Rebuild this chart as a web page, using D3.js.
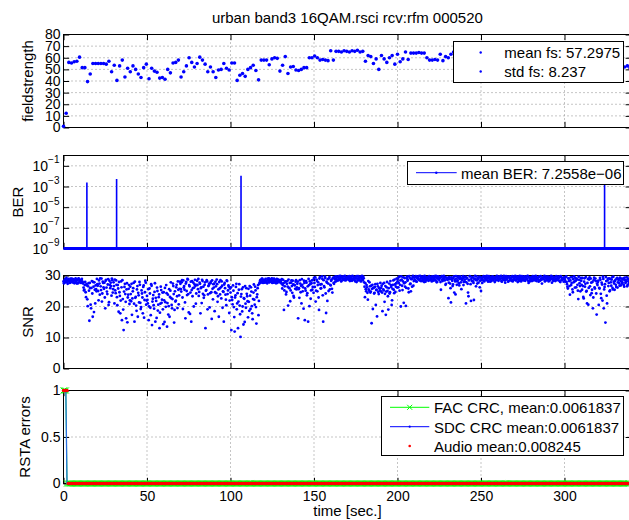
<!DOCTYPE html>
<html>
<head>
<meta charset="utf-8">
<script src="https://cdn.jsdelivr.net/npm/d3@7"></script>
<style>
body { margin: 0; background: #fff; }
text { font-family: "Liberation Sans", Arial, Helvetica, sans-serif; fill: #000; }
</style>
</head>
<body>
<svg id="fig" width="629" height="520"></svg>
<script>
// ---- data ----
var title = "urban band3 16QAM.rsci rcv:rfm 000520";
var timeTicks = [0, 50, 100, 150, 200, 250, 300];
var fsTicks = [0, 10, 20, 30, 40, 50, 60, 70, 80];
var berTicks = [1e-9, 1e-7, 1e-5, 1e-3, 1e-1];
var snrTicks = [0, 10, 20, 30];
var rstaTicks = [0, 0.5, 1];

// fieldstrength, one sample every 1.6 s
var fsStep = 1.6;
var fieldstrength = [
  1, 12.3,
  56, 55.5, 56.5, 57, 60.5, 51.5, 51.5, 39.5, 46, 55,
  55, 55, 55, 55, 54.5,
  57, 48, 53.5, 40.5, 53, 58, 43.5, 51, 48, 53,
  50, 46, 43, 51.5, 54.5, 42, 51, 48.5, 47.5, 42.5,
  43, 41.5, 50, 47, 55.5, 56, 58, 43.5, 48, 53,
  60, 56, 52, 55, 60.5, 58, 54.5, 48, 52, 48,
  43, 49.5, 50, 55, 51, 49.5, 55.5, 55.5, 40.5, 45,
  46.5, 44, 50, 51.5, 53.5, 49, 41, 58, 58, 58,
  54, 59, 60, 59.5, 48.5, 53.5, 61, 46.5, 52, 52.5,
  49.5, 49, 50, 51.5, 51.5, 60, 60, 61.5,
  60, 58, 58.5,
  58, 57.5, 66, 58, 65.5,
  65.5, 65, 66, 65.5, 65, 66, 65.5, 66.5, 65, 65.5,
  57,
  62, 61, 55, 59, 50, 62, 59, 56, 60, 62, 54.5, 63, 56.5, 59,
  65, 58.5, 64, 64, 64, 64.5, 64, 64, 60, 58, 58, 58.5, 58, 63,
  57.5, 61, 60,
  63, 65, 61, 67, 64, 62, 66, 68, 63, 60, 65, 67, 62, 64, 66, 61, 63, 68, 65, 62,
  64, 67, 60, 63, 66, 65, 62, 68, 64, 61, 63, 66, 67, 62, 65, 60, 64, 68, 63, 66,
  61, 65, 67, 62, 64, 63, 66, 60, 65, 68, 62, 64, 61, 66, 63, 67, 65, 62, 64, 60,
  66, 63, 58, 61, 56,
  52, 53, 51.5
];
var fsLegend = ["mean fs: 57.2975", "std fs: 8.237"];

// BER: zero everywhere except a few spikes
var berFloor = 1e-9;
var berTimes = [14, 31.8, 106.3, 324];
var berValues = [2.5e-3, 5.3e-3, 1.1e-2, 2e-2];
var berLegend = "mean BER: 7.2558e\u221206";

// SNR, two interleaved sample sets, each one value every 0.5 s
var snrStep = 0.5;
var snrA = [
  28.1,27.6,28.8,27.9,28.4,27.3,28.9,28.2,27.7,28.5,29.0,27.8,28.3,27.5,28.7,28.0,27.4,28.6,29.1,27.9,
  28.3,27.6,28.9,27.8,26.1,25.4,27.9,23.0,26.8,20.1,27.5,15.4,25.9,19.4,28.2,16.7,26.4,27.8,21.0,25.6,
  28.9,26.7,22.0,27.4,29.1,25.3,21.6,28.0,26.2,27.7,19.4,28.6,24.8,27.1,20.5,28.3,25.9,26.6,29.0,24.5,
  27.8,21.0,25.2,28.4,23.0,26.9,18.3,24.6,17.8,28.1,15.6,22.4,12.4,26.3,24.0,16.2,27.5,22.9,25.7,20.8,
  26.4,21.7,17.3,24.9,27.6,15.1,22.8,20.3,25.5,16.7,23.6,27.9,21.2,19.8,24.2,17.8,26.8,22.1,28.3,20.6,
  23.4,21.0,15.6,25.8,19.6,27.2,14.0,22.5,20.4,24.7,15.1,21.8,26.1,18.7,23.0,13.0,20.9,25.3,22.2,19.1,
  24.6,15.0,21.4,26.9,13.5,23.8,20.1,16.7,25.1,22.7,19.4,27.4,24.0,18.9,21.6,26.2,23.3,28.1,20.7,25.7,
  27.3,24.8,28.5,19.2,26.1,25.4,16.2,27.9,23.7,28.7,18.1,26.5,24.5,15.1,28.2,25.9,20.0,27.1,26.7,24.2,
  28.3,25.6,23.4,27.7,17.8,26.2,28.6,24.1,22.8,27.0,13.0,25.3,28.1,23.9,26.8,19.7,27.5,24.6,28.4,22.3,
  26.1,18.5,28.0,24.3,27.2,23.3,16.7,25.8,28.5,22.6,26.7,24.9,15.1,27.6,23.8,20.4,28.2,25.2,26.4,21.9,
  24.5,12.4,22.1,26.8,19.8,11.9,23.6,27.3,21.0,13.0,25.4,20.3,10.2,24.0,18.4,26.2,22.7,15.0,20.9,25.9,
  23.3,16.5,21.5,26.6,19.2,24.8,17.8,22.4,27.1,20.6,25.2,14.5,23.9,26.9,21.8,27.8,28.6,28.0,29.0,27.6,
  28.4,27.7,28.9,28.1,27.5,28.6,29.1,27.9,28.3,28.8,27.6,28.2,29.0,27.8,28.5,28.0,27.6,28.7,28.2,27.9,
  28.3,27.4,25.8,28.6,18.9,26.5,27.9,24.7,28.2,20.3,26.0,27.6,25.2,28.4,24.4,27.1,22.9,26.8,28.0,25.5,
  27.3,16.2,25.9,28.5,24.6,21.0,27.0,26.2,28.3,15.6,25.1,27.7,24.3,15.1,26.9,28.1,22.5,27.5,25.4,28.6,
  29.2,26.3,21.6,28.7,24.9,27.8,18.9,29.5,25.8,27.2,28.9,15.1,26.6,29.6,24.2,28.0,21.8,27.4,29.1,25.5,
  26.8,28.6,24.5,29.3,27.3,28.8,29.7,28.2,29.4,28.5,29.8,28.9,29.2,28.3,29.6,28.7,29.0,29.9,28.4,29.5,
  28.8,29.7,29.1,28.2,29.5,28.6,29.9,28.9,29.3,28.4,29.6,27.9,29.0,29.8,28.5,29.4,28.1,29.2,28.7,29.6,
  27.8,23.0,25.6,26.9,24.4,28.2,25.1,26.5,24.8,14.6,27.0,25.9,24.2,26.3,20.5,25.4,27.3,24.7,26.0,25.2,
  24.9,26.7,18.5,25.5,27.6,24.1,17.3,26.2,25.0,19.0,27.4,24.6,26.9,20.5,25.7,28.4,24.3,27.1,26.4,29.0,
  28.1,26.2,29.6,27.0,20.0,28.7,25.3,29.4,27.5,26.4,20.2,29.1,28.3,25.8,29.8,27.2,24.9,28.9,29.5,26.7,
  29.3,28.4,29.8,28.0,29.1,29.6,28.6,29.9,28.2,29.4,28.8,29.7,27.9,29.2,28.5,29.5,29.0,28.3,29.8,28.7,
  29.4,28.1,29.7,28.9,29.2,28.4,29.9,27.8,29.0,29.6,28.6,29.3,25.4,29.8,28.2,29.1,28.7,29.5,27.3,29.0,
  28.6,22.7,29.5,27.4,21.3,28.9,26.6,29.2,24.5,28.1,29.8,27.0,28.4,29.3,26.8,29.7,27.8,28.8,29.1,26.9,
  29.4,28.0,21.0,29.0,27.3,23.3,28.6,29.7,21.8,28.2,29.5,27.6,28.9,29.9,26.5,28.4,29.1,27.7,29.6,28.3,
  25.0,29.2,28.5,29.8,28.1,29.4,28.7,29.9,28.3,29.1,29.6,28.0,29.3,28.8,29.7,28.4,29.0,29.5,28.6,29.9,
  29.1,28.3,29.6,28.8,29.9,28.0,29.4,28.6,29.2,27.7,29.8,28.9,29.3,28.2,29.7,28.5,29.0,29.5,28.1,29.6,
  28.7,29.9,28.4,29.2,27.9,29.6,28.8,29.3,28.1,29.8,28.5,29.0,29.7,28.3,29.4,28.9,29.9,27.6,29.2,28.6,
  29.5,28.2,29.8,28.7,29.1,28.4,29.6,28.9,29.3,28.0,29.7,28.5,29.0,27.4,29.4,28.8,29.9,28.3,29.2,28.6,
  29.6,28.1,29.3,28.8,29.9,27.7,29.0,28.5,29.5,28.2,29.8,28.9,29.1,28.4,29.7,27.9,29.4,28.6,29.2,28.0,
  29.3,28.0,29.7,27.2,25.8,29.0,26.6,28.4,26.9,29.5,24.6,27.8,28.1,29.2,26.2,28.7,25.1,29.6,27.5,24.9,
  28.3,25.4,26.6,22.6,29.1,27.3,24.8,21.0,28.9,26.0,29.4,23.7,27.7,25.4,19.4,28.5,26.2,29.0,24.2,27.4,
  27.9,20.5,25.8,28.6,22.7,27.1,29.6,19.4,26.3,14.8,28.2,21.0,29.0,27.6,24.9,28.8,26.7,29.4,25.5,28.0,
  25.4,28.6,26.3,29.2,27.8,28.9,26.7,28.3,29.0,27.4,28.7,26.9,29.3,27.6,28.4,26.5,28.9,27.2,29.1,28.0
];
var snrB = [
  27.5,28.6,28.0,29.2,27.8,28.7,28.3,27.6,29.0,28.1,27.9,28.8,28.4,27.7,29.1,28.2,28.6,27.5,28.9,28.3,
  27.8,28.7,28.1,27.4,25.2,26.9,24.6,27.2,22.3,26.5,25.1,27.6,20.6,26.0,24.2,27.9,18.2,25.4,26.8,24.9,
  27.2,25.0,28.4,23.8,26.5,29.0,24.2,27.6,25.7,22.9,28.3,26.1,24.0,28.8,21.4,26.9,27.7,23.5,28.5,25.6,
  26.6,28.7,24.3,27.0,20.4,25.8,27.9,23.4,21.9,26.2,28.5,19.0,24.8,27.3,21.5,25.5,14.9,23.8,26.9,22.0,
  24.0,27.3,22.6,25.9,20.9,28.0,23.1,18.6,26.6,24.4,21.3,27.0,19.2,25.2,22.9,26.3,16.4,24.6,27.7,21.9,
  22.1,25.6,20.0,24.2,17.2,26.7,21.6,23.7,19.3,27.5,22.8,16.3,25.0,20.6,23.9,18.0,26.4,21.2,24.5,14.3,
  22.0,26.0,19.9,24.3,21.1,17.4,25.6,23.1,27.8,20.5,22.4,26.6,14.8,24.9,21.9,27.0,19.5,25.4,23.6,28.0,
  25.6,27.8,22.9,28.4,26.6,21.3,27.4,25.0,28.9,24.0,26.9,17.6,28.0,25.3,23.3,27.7,26.1,28.6,20.9,27.0,
  26.9,28.9,24.7,27.3,25.9,21.1,28.2,26.4,23.6,27.8,25.1,28.5,19.1,26.6,27.4,24.3,28.0,16.0,25.7,27.2,
  27.4,24.6,26.5,28.7,21.5,25.5,27.9,23.9,26.2,28.1,19.6,24.7,27.1,25.9,22.2,28.4,24.0,26.8,17.9,25.8,
  26.2,23.0,20.7,25.1,16.6,22.9,26.3,19.1,24.3,21.6,27.2,17.5,23.2,25.6,20.0,14.2,22.5,26.6,19.6,24.1,
  21.7,25.7,18.6,23.5,26.2,20.1,15.9,24.5,22.2,26.4,19.8,23.0,25.9,17.2,27.3,28.4,27.7,28.9,28.2,28.6,
  27.9,28.5,28.2,27.6,29.0,28.3,27.8,28.7,28.0,29.1,28.4,27.7,28.8,28.1,27.5,28.9,28.3,28.6,27.9,28.5,
  27.8,28.8,26.9,27.5,25.2,28.1,23.9,27.3,26.4,28.7,25.9,21.7,27.7,26.6,28.3,23.4,27.0,25.7,28.5,26.2,
  28.0,25.6,22.8,27.4,26.7,28.8,24.9,19.3,27.6,25.8,28.2,23.6,26.5,28.9,20.1,27.2,25.2,28.4,26.3,24.4,
  27.6,29.4,25.1,28.3,26.9,22.9,29.0,27.1,25.9,29.7,23.6,28.5,26.2,29.2,17.9,27.7,28.8,25.0,29.5,27.0,
  28.3,25.7,29.1,27.6,29.5,28.0,28.9,29.6,28.4,29.2,28.7,29.9,28.1,29.4,28.8,29.7,28.5,29.1,28.9,29.3,
  29.4,28.6,29.8,28.9,29.2,28.3,29.7,28.7,29.5,28.1,29.0,29.8,28.4,29.3,28.8,29.6,28.2,29.9,28.5,29.1,
  26.4,27.5,24.9,26.2,22.2,25.5,27.8,24.5,26.7,25.7,19.2,26.1,24.4,27.2,25.3,16.8,26.5,24.0,25.8,27.6,
  26.0,24.5,27.3,25.2,21.5,26.6,24.8,27.9,23.3,25.9,24.2,28.2,26.3,22.0,27.0,25.4,28.7,24.7,27.5,26.1,
  29.0,27.6,25.1,28.4,29.7,26.7,28.1,21.2,29.2,27.8,26.0,29.6,28.6,24.6,29.3,27.4,28.8,26.4,29.9,28.2,
  28.7,29.5,28.1,29.2,28.9,29.8,28.4,29.0,29.6,28.2,29.3,28.6,29.9,28.0,29.4,28.8,29.1,29.7,28.5,29.2,
  28.8,29.6,28.3,29.1,29.8,28.5,29.3,28.0,29.7,28.9,29.2,27.9,29.5,28.6,29.0,29.9,28.4,27.0,29.3,28.7,
  29.2,27.7,28.8,25.9,29.4,28.3,27.1,29.7,28.6,23.9,29.0,28.1,29.6,27.5,28.9,29.3,25.6,28.5,29.8,27.9,
  28.7,29.6,27.8,29.2,24.5,28.4,29.8,27.2,28.9,29.4,28.1,22.1,29.0,28.6,29.7,27.4,28.8,29.3,26.2,29.5,
  28.9,27.6,29.4,28.3,29.0,29.7,28.6,29.2,28.0,29.8,28.7,29.4,28.2,29.6,28.9,29.1,27.9,29.3,28.5,29.7,
  28.6,29.4,28.9,29.7,28.2,29.1,28.8,29.9,28.4,29.3,28.7,29.6,28.0,29.5,28.9,29.2,28.3,29.8,28.6,29.0,
  29.3,28.5,29.7,28.8,29.1,28.2,29.9,28.6,29.4,28.9,29.2,28.4,29.6,28.7,29.0,29.8,28.3,29.5,28.1,29.3,
  28.9,29.3,28.4,29.6,28.8,29.9,28.2,29.2,28.7,29.5,28.3,29.8,28.6,29.1,28.9,29.4,28.1,29.7,28.5,29.0,
  28.8,29.5,28.4,29.2,28.9,29.7,28.3,29.4,28.7,29.0,28.5,29.6,28.9,29.3,28.1,29.8,28.6,29.1,28.8,29.4,
  28.6,29.5,27.9,26.4,29.1,28.2,23.8,29.4,27.6,25.5,28.8,29.7,26.1,28.3,29.0,27.0,22.4,28.6,26.6,29.2,
  27.0,29.2,23.1,28.0,26.4,29.5,25.0,27.6,20.6,28.7,26.5,29.0,24.3,27.9,22.9,29.3,25.8,28.2,17.4,26.9,
  28.3,26.0,29.2,24.1,27.7,21.9,28.9,25.5,27.2,29.5,23.5,28.4,26.6,29.1,25.2,27.8,28.7,26.0,29.6,27.4,
  28.2,27.0,29.0,26.1,28.6,27.5,29.3,26.8,28.0,27.7,29.1,26.4,28.5,27.9,29.4,26.9,28.1,27.5,29.2,27.8
];

// RSTA CRC flags: sample count, step, and the sample indices that were errors
var rstaStep = 0.7;
var rstaCount = 485;
var facErrors = [0, 1, 2];
var sdcErrors = [0, 1, 2];
var audioErrors = [0, 1, 2, 3];
var rstaLegend = ["FAC CRC, mean:0.0061837", "SDC CRC mean:0.0061837", "Audio mean:0.008245"];

// ---- layout ----
var svg = d3.select("#fig");
var xLeft = 63.5, xRight = 631.3;
var panels = [
  {top: 34.5, bottom: 127.5},
  {top: 155.5, bottom: 248.5},
  {top: 275.5, bottom: 368.5},
  {top: 390.5, bottom: 483.5}
];
var tickLen = 5.7;
var tickFont = 14, labelFont = 15;
var blue = "#0000ff", green = "#00ff00", red = "#ff0000";

var x = d3.scaleLinear().domain([0, 340]).range([xLeft, xRight]);

function gridLines(p, y, yTicks) {
  var g = svg.append("g");
  g.selectAll(".gx").data(timeTicks.filter(function(d){ return d > 0; }))
    .enter().append("line")
    .attr("x1", function(d){ return x(d); }).attr("x2", function(d){ return x(d); })
    .attr("y1", p.top).attr("y2", p.bottom)
    .attr("stroke", "#8a8a8a").attr("stroke-dasharray", "1,3");
  g.selectAll(".gy").data(yTicks.filter(function(d){ var v = y(d); return v > p.top + 1 && v < p.bottom - 1; }))
    .enter().append("line")
    .attr("x1", xLeft).attr("x2", xRight)
    .attr("y1", function(d){ return y(d); }).attr("y2", function(d){ return y(d); })
    .attr("stroke", "#8a8a8a").attr("stroke-dasharray", "1,3");
}

function frame(p, y, yTicks, yFmt, withX) {
  var g = svg.append("g");
  g.append("g").attr("transform", "translate(" + xLeft + ",0)")
    .call(d3.axisLeft(y).tickValues(yTicks).tickSize(-tickLen).tickPadding(3)
      .tickFormat(yFmt === null ? "" : yFmt));
  g.append("g").attr("transform", "translate(" + xRight + ",0)")
    .call(d3.axisRight(y).tickValues(yTicks).tickSize(-tickLen).tickFormat(""));
  g.append("g").attr("transform", "translate(0," + p.top + ")")
    .call(d3.axisTop(x).tickValues(timeTicks).tickSize(-tickLen).tickFormat(""));
  g.append("g").attr("transform", "translate(0," + p.bottom + ")")
    .call(d3.axisBottom(x).tickValues(timeTicks).tickSize(-tickLen).tickPadding(7.5)
      .tickFormat(withX ? d3.format("d") : ""));
  g.selectAll(".domain").remove();
  g.selectAll("text").attr("font-size", tickFont).attr("font-family", null);
  g.append("rect").attr("x", xLeft).attr("y", p.top)
    .attr("width", xRight - xLeft).attr("height", p.bottom - p.top)
    .attr("fill", "none").attr("stroke", "#000");
}

function yLabel(text, px, p) {
  svg.append("text")
    .attr("transform", "translate(" + px + "," + ((p.top + p.bottom) / 2) + ") rotate(-90)")
    .attr("text-anchor", "middle").attr("font-size", labelFont).text(text);
}

// title
svg.append("text").attr("x", (xLeft + xRight) / 2).attr("y", 23.3)
  .attr("text-anchor", "middle").attr("font-size", labelFont).text(title);

// ---- panel 1: fieldstrength ----
var p1 = panels[0];
var y1 = d3.scaleLinear().domain([0, 80]).range([p1.bottom, p1.top]);
gridLines(p1, y1, fsTicks);
frame(p1, y1, fsTicks, d3.format("d"), false);
svg.append("g").selectAll("circle").data(fieldstrength).enter().append("circle")
  .attr("cx", function(d, i){ return x(i * fsStep); })
  .attr("cy", function(d){ return y1(d); })
  .attr("r", 1.8).attr("fill", blue);
yLabel("fieldstrength", 32.5, p1);

var lg1 = svg.append("g");
lg1.append("rect").attr("x", 453.5).attr("y", 41.5).attr("width", 170).attr("height", 41)
  .attr("fill", "#fff").attr("stroke", "#000");
lg1.selectAll("circle").data(fsLegend).enter().append("circle")
  .attr("cx", 480.7).attr("cy", function(d, i){ return 52.5 + i * 19; })
  .attr("r", 1.2).attr("fill", blue);
lg1.selectAll("text").data(fsLegend).enter().append("text")
  .attr("x", 504.3).attr("y", function(d, i){ return 57.6 + i * 19; })
  .attr("font-size", labelFont).text(function(d){ return d; });

// ---- panel 2: BER (log) ----
var p2 = panels[1];
var y2 = d3.scaleLog().domain([1e-9, 1]).range([p2.bottom, p2.top]);
gridLines(p2, y2, berTicks);
frame(p2, y2, berTicks, null, false);
var berPts = [[0, berFloor]];
berTimes.forEach(function(t, i){
  berPts.push([t, berFloor], [t, berValues[i]], [t, berFloor]);
});
berPts.push([340, berFloor]);
svg.append("path")
  .attr("d", d3.line().x(function(d){ return x(d[0]); }).y(function(d){ return y2(d[1]); })(berPts))
  .attr("fill", "none").attr("stroke", blue).attr("stroke-width", 1.6);
svg.append("line").attr("x1", x(0)).attr("x2", x(340))
  .attr("y1", y2(berFloor)).attr("y2", y2(berFloor))
  .attr("stroke", blue).attr("stroke-width", 3.2);
var berLab = svg.append("g").selectAll("text").data(berTicks).enter().append("text")
  .attr("x", 59.5).attr("y", function(d){ return y2(d) + 5; })
  .attr("text-anchor", "end").attr("font-size", tickFont);
berLab.append("tspan").text("10");
berLab.append("tspan").attr("dy", -7.5).attr("font-size", 10)
  .text(function(d){ return "\u2212" + Math.round(-Math.log10(d)); });
yLabel("BER", 22.7, p2);

var lg2 = svg.append("g");
lg2.append("rect").attr("x", 407.5).attr("y", 161.5).attr("width", 216).attr("height", 23)
  .attr("fill", "#fff").attr("stroke", "#000");
lg2.append("line").attr("x1", 416).attr("x2", 456.7).attr("y1", 172.7).attr("y2", 172.7)
  .attr("stroke", blue);
lg2.append("circle").attr("cx", 436.3).attr("cy", 172.7).attr("r", 1.2).attr("fill", blue);
lg2.append("text").attr("x", 461).attr("y", 178.6).attr("font-size", labelFont).text(berLegend);

// ---- panel 3: SNR ----
var p3 = panels[2];
var y3 = d3.scaleLinear().domain([0, 30]).range([p3.bottom, p3.top]);
gridLines(p3, y3, snrTicks);
frame(p3, y3, snrTicks, d3.format("d"), false);
var snrG = svg.append("g");
snrG.selectAll(".a").data(snrA).enter().append("circle")
  .attr("cx", function(d, i){ return x(i * snrStep); })
  .attr("cy", function(d){ return y3(d); })
  .attr("r", 1.4).attr("fill", blue);
snrG.selectAll(".b").data(snrB).enter().append("circle")
  .attr("cx", function(d, i){ return x(snrStep / 2 + i * snrStep); })
  .attr("cy", function(d){ return y3(d); })
  .attr("r", 1.4).attr("fill", blue);
yLabel("SNR", 33, p3);

// ---- panel 4: RSTA errors ----
var p4 = panels[3];
var y4 = d3.scaleLinear().domain([0, 1]).range([p4.bottom, p4.top]);
gridLines(p4, y4, rstaTicks);
frame(p4, y4, rstaTicks, d3.format("~g"), true);
function flags(errs) {
  return d3.range(rstaCount).map(function(i){
    return {t: i * rstaStep, v: errs.indexOf(i) >= 0 ? 1 : 0};
  });
}
var fac = flags(facErrors), sdc = flags(sdcErrors), aud = flags(audioErrors);
var line4 = d3.line().x(function(d){ return x(d.t); }).y(function(d){ return y4(d.v); });
svg.append("path").attr("d", line4(fac)).attr("fill", "none").attr("stroke", green);
svg.append("g").selectAll("path").data(fac).enter().append("path")
  .attr("transform", function(d){ return "translate(" + x(d.t) + "," + y4(d.v) + ")"; })
  .attr("d", "M-3,-3L3,3M-3,3L3,-3").attr("stroke", green).attr("fill", "none");
svg.append("path").attr("d", line4(sdc)).attr("fill", "none").attr("stroke", "#2a6fe0").attr("stroke-width", 1.3);
svg.append("g").selectAll("circle").data(aud).enter().append("circle")
  .attr("cx", function(d){ return x(d.t); }).attr("cy", function(d){ return y4(d.v); })
  .attr("r", 1.7).attr("fill", red);
yLabel("RSTA errors", 29.5, p4);

svg.append("text").attr("x", (xLeft + xRight) / 2).attr("y", 516)
  .attr("text-anchor", "middle").attr("font-size", labelFont).text("time [sec.]");

var lg4 = svg.append("g");
lg4.append("rect").attr("x", 381.5).attr("y", 396.5).attr("width", 242).attr("height", 59)
  .attr("fill", "#fff").attr("stroke", "#000");
lg4.append("line").attr("x1", 390).attr("x2", 429.3).attr("y1", 407.3).attr("y2", 407.3).attr("stroke", green);
lg4.append("path").attr("transform", "translate(409.7,407.3)")
  .attr("d", "M-2.5,-2.5L2.5,2.5M-2.5,2.5L2.5,-2.5").attr("stroke", green);
lg4.append("line").attr("x1", 390).attr("x2", 429.3).attr("y1", 426.7).attr("y2", 426.7).attr("stroke", blue);
lg4.append("circle").attr("cx", 409.7).attr("cy", 426.7).attr("r", 1.1).attr("fill", blue);
lg4.append("circle").attr("cx", 409.7).attr("cy", 446).attr("r", 1.3).attr("fill", red);
lg4.selectAll("text").data(rstaLegend).enter().append("text")
  .attr("x", 434).attr("y", function(d, i){ return [413, 432.5, 451.5][i]; })
  .attr("font-size", labelFont).text(function(d){ return d; });
</script>
</body>
</html>
